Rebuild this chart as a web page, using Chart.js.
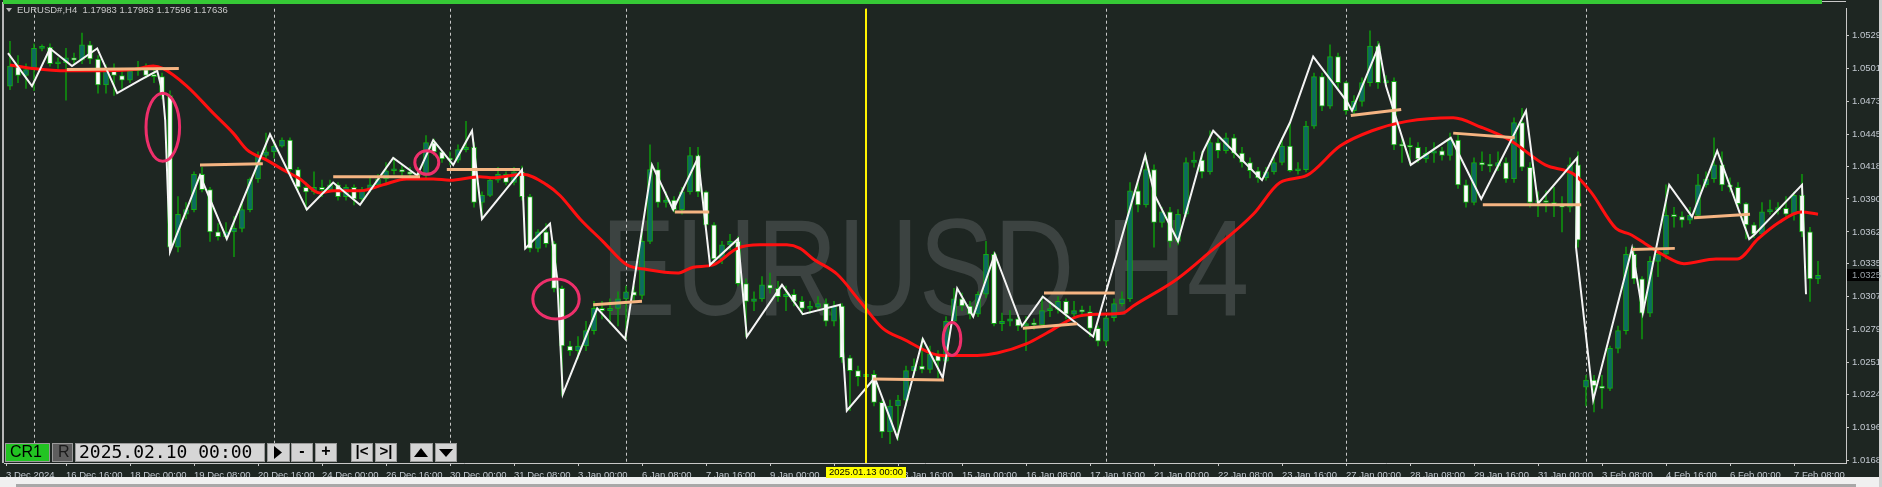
<!DOCTYPE html>
<html>
<head>
<meta charset="utf-8">
<title>EURUSD#,H4</title>
<script src="https://cdn.jsdelivr.net/npm/chart.js@4.4.1/dist/chart.umd.min.js"></script>
<style>
  html, body { margin: 0; padding: 0; background: #1e2622; overflow: hidden; }
  canvas { display: block; }
</style>
</head>
<body>
<canvas id="grafico" width="1882" height="487"></canvas>
<script>
// velas H4, uma entrada por barra: 13 Dec 2024 12:00 ate 7 Feb 2025 20:00
const abertura = [
  1.0486, 1.0503, 1.0495, 1.0500, 1.0518, 1.0519, 1.0505, 1.0506, 1.0510, 1.0508,
  1.0521, 1.0509, 1.0487, 1.0499, 1.0495, 1.0491, 1.0499, 1.0500, 1.0495, 1.0494,
  1.0478, 1.0349, 1.0377, 1.0381, 1.0411, 1.0398, 1.0362, 1.0358, 1.0362, 1.0365,
  1.0381, 1.0407, 1.0427, 1.0430, 1.0435, 1.0440, 1.0415, 1.0400, 1.0396, 1.0400,
  1.0398, 1.0402, 1.0392, 1.0400, 1.0390, 1.0398, 1.0402, 1.0407, 1.0414, 1.0415,
  1.0413, 1.0411, 1.0410, 1.0438, 1.0430, 1.0424, 1.0423, 1.0432, 1.0434, 1.0387,
  1.0393, 1.0406, 1.0411, 1.0404, 1.0413, 1.0392, 1.0348, 1.0362, 1.0352, 1.0314,
  1.0265, 1.0261, 1.0265, 1.0278, 1.0297, 1.0295, 1.0297, 1.0305, 1.0311, 1.0308,
  1.0354, 1.0415, 1.0387, 1.0389, 1.0381, 1.0396, 1.0427, 1.0396, 1.0368, 1.0339,
  1.0351, 1.0354, 1.0318, 1.0303, 1.0305, 1.0317, 1.0314, 1.0307, 1.0309, 1.0303,
  1.0297, 1.0298, 1.0301, 1.0286, 1.0299, 1.0255, 1.0244, 1.0239, 1.0241, 1.0217,
  1.0192, 1.0214, 1.0219, 1.0244, 1.0248, 1.0245, 1.0258, 1.0252, 1.0286, 1.0305,
  1.0299, 1.0292, 1.0309, 1.0343, 1.0284, 1.0286, 1.0288, 1.0282, 1.0284, 1.0283,
  1.0295, 1.0296, 1.0303, 1.0292, 1.0295, 1.0294, 1.0280, 1.0269, 1.0289, 1.0301,
  1.0305, 1.0397, 1.0385, 1.0415, 1.0370, 1.0379, 1.0354, 1.0377, 1.0421, 1.0423,
  1.0413, 1.0438, 1.0431, 1.0442, 1.0429, 1.0421, 1.0414, 1.0408, 1.0413, 1.0421,
  1.0435, 1.0414, 1.0415, 1.0452, 1.0494, 1.0469, 1.0511, 1.0489, 1.0465, 1.0473,
  1.0489, 1.0520, 1.0489, 1.0490, 1.0436, 1.0435, 1.0434, 1.0424, 1.0429, 1.0431,
  1.0427, 1.0440, 1.0402, 1.0387, 1.0421, 1.0419, 1.0418, 1.0421, 1.0407, 1.0455,
  1.0417, 1.0387, 1.0388, 1.0387, 1.0385, 1.0383, 1.0419, 1.0230, 1.0236, 1.0231,
  1.0229, 1.0263, 1.0278, 1.0343, 1.0322, 1.0293, 1.0337, 1.0343, 1.0376, 1.0375,
  1.0372, 1.0376, 1.0402, 1.0407, 1.0419, 1.0402, 1.0400, 1.0386, 1.0368, 1.0360,
  1.0379, 1.0381, 1.0382, 1.0377, 1.0393, 1.0362, 1.0322
]
const maxima = [
  1.0524, 1.0512, 1.0505, 1.0522, 1.0521, 1.0522, 1.0510, 1.0518, 1.0514, 1.0531,
  1.0524, 1.0512, 1.0504, 1.0505, 1.0499, 1.0501, 1.0507, 1.0505, 1.0500, 1.0497,
  1.0482, 1.0392, 1.0387, 1.0413, 1.0417, 1.0400, 1.0369, 1.0370, 1.0375, 1.0387,
  1.0408, 1.0430, 1.0446, 1.0440, 1.0442, 1.0442, 1.0417, 1.0404, 1.0413, 1.0406,
  1.0406, 1.0404, 1.0402, 1.0402, 1.0400, 1.0408, 1.0411, 1.0421, 1.0425, 1.0419,
  1.0417, 1.0414, 1.0444, 1.0441, 1.0431, 1.0430, 1.0436, 1.0456, 1.0438, 1.0396,
  1.0408, 1.0417, 1.0413, 1.0417, 1.0418, 1.0394, 1.0364, 1.0369, 1.0354, 1.0316,
  1.0269, 1.0273, 1.0286, 1.0303, 1.0303, 1.0305, 1.0311, 1.0316, 1.0316, 1.0366,
  1.0436, 1.0421, 1.0396, 1.0392, 1.0400, 1.0434, 1.0434, 1.0397, 1.0370, 1.0354,
  1.0360, 1.0358, 1.0322, 1.0311, 1.0324, 1.0327, 1.0320, 1.0316, 1.0313, 1.0307,
  1.0303, 1.0307, 1.0305, 1.0303, 1.0301, 1.0257, 1.0248, 1.0246, 1.0244, 1.0219,
  1.0219, 1.0223, 1.0248, 1.0254, 1.0271, 1.0265, 1.0261, 1.0290, 1.0314, 1.0310,
  1.0303, 1.0311, 1.0354, 1.0345, 1.0293, 1.0295, 1.0290, 1.0290, 1.0288, 1.0307,
  1.0303, 1.0307, 1.0305, 1.0303, 1.0299, 1.0299, 1.0282, 1.0290, 1.0305, 1.0311,
  1.0404, 1.0404, 1.0427, 1.0419, 1.0383, 1.0383, 1.0381, 1.0425, 1.0430, 1.0430,
  1.0448, 1.0442, 1.0446, 1.0445, 1.0434, 1.0425, 1.0417, 1.0417, 1.0425, 1.0442,
  1.0455, 1.0421, 1.0456, 1.0497, 1.0497, 1.0521, 1.0514, 1.0490, 1.0478, 1.0493,
  1.0533, 1.0524, 1.0495, 1.0493, 1.0442, 1.0442, 1.0438, 1.0434, 1.0438, 1.0434,
  1.0446, 1.0445, 1.0406, 1.0425, 1.0430, 1.0428, 1.0430, 1.0425, 1.0459, 1.0467,
  1.0421, 1.0396, 1.0397, 1.0400, 1.0392, 1.0425, 1.0430, 1.0240, 1.0240, 1.0240,
  1.0265, 1.0282, 1.0349, 1.0349, 1.0324, 1.0341, 1.0347, 1.0402, 1.0383, 1.0379,
  1.0383, 1.0411, 1.0413, 1.0442, 1.0430, 1.0408, 1.0404, 1.0387, 1.0370, 1.0387,
  1.0389, 1.0387, 1.0392, 1.0396, 1.0411, 1.0366, 1.0337
]
const minima = [
  1.0483, 1.0489, 1.0484, 1.0482, 1.0516, 1.0503, 1.0501, 1.0474, 1.0504, 1.0505,
  1.0505, 1.0480, 1.0480, 1.0478, 1.0484, 1.0489, 1.0495, 1.0493, 1.0489, 1.0475,
  1.0345, 1.0345, 1.0373, 1.0379, 1.0396, 1.0354, 1.0355, 1.0356, 1.0341, 1.0362,
  1.0379, 1.0404, 1.0424, 1.0425, 1.0434, 1.0411, 1.0396, 1.0381, 1.0394, 1.0392,
  1.0396, 1.0389, 1.0389, 1.0385, 1.0387, 1.0396, 1.0400, 1.0404, 1.0411, 1.0409,
  1.0408, 1.0408, 1.0408, 1.0427, 1.0421, 1.0419, 1.0421, 1.0430, 1.0383, 1.0373,
  1.0392, 1.0404, 1.0402, 1.0402, 1.0389, 1.0345, 1.0345, 1.0349, 1.0311, 1.0223,
  1.0257, 1.0254, 1.0261, 1.0275, 1.0288, 1.0284, 1.0282, 1.0271, 1.0303, 1.0305,
  1.0352, 1.0383, 1.0383, 1.0379, 1.0377, 1.0394, 1.0392, 1.0364, 1.0334, 1.0335,
  1.0347, 1.0316, 1.0273, 1.0295, 1.0303, 1.0310, 1.0303, 1.0295, 1.0299, 1.0292,
  1.0293, 1.0295, 1.0282, 1.0282, 1.0251, 1.0210, 1.0231, 1.0236, 1.0214, 1.0187,
  1.0182, 1.0185, 1.0214, 1.0240, 1.0242, 1.0242, 1.0238, 1.0251, 1.0284, 1.0295,
  1.0288, 1.0290, 1.0306, 1.0282, 1.0278, 1.0282, 1.0278, 1.0261, 1.0279, 1.0282,
  1.0290, 1.0293, 1.0288, 1.0290, 1.0290, 1.0273, 1.0265, 1.0265, 1.0286, 1.0299,
  1.0303, 1.0379, 1.0383, 1.0349, 1.0366, 1.0349, 1.0351, 1.0375, 1.0417, 1.0408,
  1.0411, 1.0425, 1.0429, 1.0425, 1.0417, 1.0408, 1.0404, 1.0406, 1.0411, 1.0419,
  1.0413, 1.0411, 1.0413, 1.0450, 1.0465, 1.0467, 1.0484, 1.0462, 1.0462, 1.0469,
  1.0486, 1.0484, 1.0486, 1.0432, 1.0421, 1.0419, 1.0421, 1.0421, 1.0421, 1.0423,
  1.0423, 1.0399, 1.0383, 1.0385, 1.0414, 1.0413, 1.0414, 1.0404, 1.0404, 1.0414,
  1.0383, 1.0375, 1.0379, 1.0375, 1.0362, 1.0379, 1.0349, 1.0214, 1.0209, 1.0212,
  1.0227, 1.0259, 1.0275, 1.0318, 1.0271, 1.0290, 1.0324, 1.0339, 1.0366, 1.0366,
  1.0369, 1.0375, 1.0400, 1.0404, 1.0397, 1.0396, 1.0383, 1.0356, 1.0357, 1.0358,
  1.0377, 1.0377, 1.0375, 1.0372, 1.0358, 1.0303, 1.0318
]
const fechamento = [
  1.0503, 1.0495, 1.0500, 1.0518, 1.0519, 1.0505, 1.0506, 1.0510, 1.0508, 1.0521,
  1.0509, 1.0487, 1.0499, 1.0495, 1.0491, 1.0499, 1.0500, 1.0495, 1.0494, 1.0478,
  1.0349, 1.0377, 1.0381, 1.0411, 1.0398, 1.0362, 1.0358, 1.0362, 1.0365, 1.0381,
  1.0407, 1.0427, 1.0430, 1.0435, 1.0440, 1.0415, 1.0400, 1.0396, 1.0400, 1.0398,
  1.0402, 1.0392, 1.0400, 1.0390, 1.0398, 1.0402, 1.0407, 1.0414, 1.0415, 1.0413,
  1.0411, 1.0410, 1.0438, 1.0430, 1.0424, 1.0423, 1.0432, 1.0434, 1.0387, 1.0393,
  1.0406, 1.0411, 1.0404, 1.0413, 1.0392, 1.0348, 1.0362, 1.0352, 1.0314, 1.0265,
  1.0261, 1.0265, 1.0278, 1.0297, 1.0295, 1.0297, 1.0305, 1.0311, 1.0308, 1.0354,
  1.0415, 1.0387, 1.0389, 1.0381, 1.0396, 1.0427, 1.0396, 1.0368, 1.0339, 1.0351,
  1.0354, 1.0318, 1.0303, 1.0305, 1.0317, 1.0314, 1.0307, 1.0309, 1.0303, 1.0297,
  1.0298, 1.0301, 1.0286, 1.0299, 1.0255, 1.0244, 1.0239, 1.0241, 1.0217, 1.0192,
  1.0214, 1.0219, 1.0244, 1.0248, 1.0245, 1.0258, 1.0252, 1.0286, 1.0305, 1.0299,
  1.0292, 1.0309, 1.0343, 1.0284, 1.0286, 1.0288, 1.0282, 1.0284, 1.0283, 1.0295,
  1.0296, 1.0303, 1.0292, 1.0295, 1.0294, 1.0280, 1.0269, 1.0289, 1.0301, 1.0305,
  1.0397, 1.0385, 1.0415, 1.0370, 1.0379, 1.0354, 1.0377, 1.0421, 1.0423, 1.0413,
  1.0438, 1.0431, 1.0442, 1.0429, 1.0421, 1.0414, 1.0408, 1.0413, 1.0421, 1.0435,
  1.0414, 1.0415, 1.0452, 1.0494, 1.0469, 1.0511, 1.0489, 1.0465, 1.0473, 1.0489,
  1.0520, 1.0489, 1.0490, 1.0436, 1.0435, 1.0434, 1.0424, 1.0429, 1.0431, 1.0427,
  1.0440, 1.0402, 1.0387, 1.0421, 1.0419, 1.0418, 1.0421, 1.0407, 1.0455, 1.0417,
  1.0387, 1.0388, 1.0387, 1.0385, 1.0383, 1.0419, 1.0355, 1.0236, 1.0231, 1.0229,
  1.0263, 1.0278, 1.0343, 1.0322, 1.0293, 1.0337, 1.0343, 1.0376, 1.0375, 1.0372,
  1.0376, 1.0402, 1.0407, 1.0419, 1.0402, 1.0400, 1.0386, 1.0368, 1.0360, 1.0379,
  1.0381, 1.0382, 1.0377, 1.0393, 1.0362, 1.0322, 1.0325
]

// media movel (linha vermelha), lida em alguns pontos
const mediaBarras = [0, 2.9, 7.1, 11.25, 15.4, 17.9, 19.1, 22.1, 25.4, 27.9, 29.6, 32.1, 34.1, 36.25, 38.75,
  40.4, 43.75, 46.6, 49.6, 52.9, 55, 58.75, 60.4, 64.1, 67.1, 68.75, 71.25, 74.1, 77.1, 79.6,
  83.4, 85.4, 87.9, 90.9, 93.75, 97.1, 98.75, 100.4, 103.4, 106.25, 109.1, 111.6, 116.6, 120.9, 123.4,
  127.1, 129.6, 133.4, 136.25, 139.1, 140.4, 145.9, 150, 155.4, 158.75, 162.1, 166.25, 170.25, 174.6, 180.4,
  183.9, 187.5, 191.9, 195.5, 197.6, 200.75, 202.5, 204.4, 206.5, 209.25, 213.25, 215.9, 218.5, 221.1, 223.9, 226]
const mediaPrecos = [1.0504, 1.0501, 1.0499, 1.0499, 1.0500, 1.0503, 1.0501, 1.0486, 1.0463, 1.0446, 1.0432, 1.0423, 1.0415, 1.0407, 1.0395,
  1.0397, 1.0397, 1.0402, 1.0407, 1.0407, 1.0406, 1.0409, 1.0408, 1.0411, 1.0402, 1.0393, 1.0373, 1.0354, 1.0334, 1.0330,
  1.0327, 1.0332, 1.0334, 1.0348, 1.0351, 1.0351, 1.0348, 1.0339, 1.0326, 1.0303, 1.0280, 1.0271, 1.0257, 1.0257, 1.0259,
  1.0267, 1.0276, 1.0290, 1.0292, 1.0293, 1.0299, 1.0322, 1.0345, 1.0377, 1.0404, 1.0410, 1.0435, 1.0448, 1.0456, 1.0459,
  1.0451, 1.0440, 1.0419, 1.0411, 1.0396, 1.0365, 1.0360, 1.0352, 1.0343, 1.0335, 1.0339, 1.0339, 1.0356, 1.0370, 1.0379, 1.0377]

// zigzag (linha branca)
const zigzagBarras = [-0.25, 2.75, 5, 7.75, 10.9, 13.4, 16.25, 18.4, 19.1, 19.4, 20, 23.75, 27.1, 32.5, 37.1, 40.4,
  43.75, 47.9, 50.9, 52.9, 55.4, 57.75, 59, 64, 64.4, 67.5, 68.4, 69.1, 73.4, 76.9, 80.25, 82.9, 86, 87.5,
  91, 92.1, 96.5, 99.1, 103.75, 104.6, 108.1, 110.9, 114.1, 116.6, 118.4, 120.4, 123.1, 126.5, 129.1, 135.4,
  141.9, 143.1, 146, 149.1, 150.4, 156.5, 160, 162.9, 167.1, 167.75, 171.1, 172, 175.1, 180.1, 183.9, 189.5,
  191, 195.9, 195.75, 197.9, 202.75, 204.1, 207.4, 210.25, 213.4, 217.4, 218.1, 224, 224.5]
const zigzagPrecos = [1.0514, 1.0486, 1.0518, 1.0503, 1.0518, 1.0480, 1.0491, 1.0499, 1.0480, 1.0457, 1.0345, 1.0410, 1.0356, 1.0445, 1.0381, 1.0404,
  1.0385, 1.0425, 1.0410, 1.0440, 1.0419, 1.0448, 1.0373, 1.0415, 1.0348, 1.0369, 1.0322, 1.0224, 1.0297, 1.0271, 1.0419, 1.0381, 1.0425, 1.0334,
  1.0356, 1.0273, 1.0317, 1.0292, 1.0300, 1.0210, 1.0238, 1.0187, 1.0271, 1.0238, 1.0314, 1.0290, 1.0343, 1.0282, 1.0307, 1.0273,
  1.0427, 1.0393, 1.0354, 1.0430, 1.0448, 1.0406, 1.0455, 1.0511, 1.0473, 1.0465, 1.0520, 1.0486, 1.0419, 1.0442, 1.0390, 1.0465,
  1.0386, 1.0425, 1.0349, 1.0219, 1.0348, 1.0293, 1.0402, 1.0375, 1.0431, 1.0356, 1.0360, 1.0402, 1.0309]

// niveis (segmentos laranja)
const nivelBarraIni = [7.1, 23.75, 40.4, 54.6, 72.9, 83.1, 107.9, 129.25, 126.6, 167.6, 180.4, 184.1, 202.75, 210.5]
const nivelBarraFim = [21.1, 31.6, 51.25, 63.75, 79, 87.4, 116.75, 138.1, 133.4, 173.9, 188.1, 196.4, 208.1, 217.5]
const nivelPrecoIni = [1.0500, 1.0419, 1.0409, 1.0415, 1.0300, 1.0379, 1.0237, 1.0310, 1.0280, 1.0461, 1.0446, 1.0385, 1.0347, 1.0374]
const nivelPrecoFim = [1.0501, 1.0420, 1.0409, 1.0415, 1.0303, 1.0379, 1.0236, 1.0310, 1.0284, 1.0466, 1.0442, 1.0385, 1.0348, 1.0377]

// marcacoes (elipses rosa)
const elipseBarra = [19.1, 52.1, 68.25, 117.75]
const elipsePreco = [1.0451, 1.0421, 1.0305, 1.0271]
const elipseRaioBarras = [2.1, 1.5, 2.9, 1.1]
const elipseRaioPreco = [0.0029, 0.0010, 0.0017, 0.0014]

// eixos
const precosEixo = [1.0168, 1.0196, 1.0224, 1.0251, 1.0279, 1.0307, 1.0335, 1.0362, 1.0390, 1.0418, 1.0445, 1.0473, 1.0501, 1.0529]
const barrasTempo = [-0.5, 7, 15, 23, 31, 39, 47, 55, 63, 71, 79, 87, 95, 103, 111, 119, 127, 135, 143, 151, 159, 167, 175, 183, 191, 199, 207, 215, 223]
const rotulosTempo = ['3 Dec 2024', '16 Dec 16:00', '18 Dec 00:00', '19 Dec 08:00', '20 Dec 16:00', '24 Dec 00:00', '26 Dec 16:00',
  '30 Dec 00:00', '31 Dec 08:00', '3 Jan 00:00', '6 Jan 08:00', '7 Jan 16:00', '9 Jan 00:00', '10 Jan 08:00', '13 Jan 16:00',
  '15 Jan 00:00', '16 Jan 08:00', '17 Jan 16:00', '21 Jan 00:00', '22 Jan 08:00', '23 Jan 16:00', '27 Jan 00:00', '28 Jan 08:00',
  '29 Jan 16:00', '31 Jan 00:00', '3 Feb 08:00', '4 Feb 16:00', '6 Feb 00:00', '7 Feb 08:00']
const inicioSemana = [3, 33, 55, 77, 107, 137, 167, 197]
const marcadorBarra = 107
const marcadorRotulo = '2025.01.13 00:00'

const titulo = 'EURUSD#,H4  1.17983 1.17983 1.17596 1.17636'
const marcaDagua = 'EURUSD H4'
const dataCampo = '2025.02.10 00:00'

const corFundo = '#1e2622'
const corTexto = '#c3c9d1'
const fonte = '"Liberation Sans", Arial, sans-serif'

const barras = fechamento.map((_, i) => i)

function desenharBotao(ctx, x, w, cor) {
    ctx.fillStyle = cor
    ctx.fillRect(x, 443, w, 19)
    ctx.strokeStyle = '#9a9a9a'
    ctx.lineWidth = 1
    ctx.strokeRect(x + 0.5, 443.5, w - 1, 18)
}

function triangulo(ctx, pts) {
    ctx.beginPath()
    ctx.moveTo(pts[0], pts[1])
    ctx.lineTo(pts[2], pts[3])
    ctx.lineTo(pts[4], pts[5])
    ctx.closePath()
    ctx.fill()
}

function desenharControles(ctx) {
    desenharBotao(ctx, 5, 45, '#22c422')
    desenharBotao(ctx, 52, 21, '#5e5e5e')
    desenharBotao(ctx, 75, 190, '#d6d6d6')
    const botoes = [[267, 23], [291, 22], [315, 22], [351, 22], [375, 22], [410, 23], [435, 22]]
    botoes.forEach(([x, w]) => desenharBotao(ctx, x, w, '#d4d4d4'))

    ctx.fillStyle = '#000'
    ctx.textBaseline = 'middle'
    ctx.textAlign = 'left'
    ctx.font = '16px ' + fonte
    ctx.fillText('CR1', 10, 453)
    ctx.fillStyle = '#1a1a1a'
    ctx.fillText('R', 58, 453)
    ctx.fillStyle = '#000'
    ctx.font = '18px "DejaVu Sans Mono", monospace'
    ctx.fillText(dataCampo, 79, 453)

    triangulo(ctx, [274, 446, 274, 459, 282, 452.5])
    ctx.font = 'bold 16px ' + fonte
    ctx.textAlign = 'center'
    ctx.fillText('-', 302, 452)
    ctx.fillText('+', 326, 452)
    ctx.font = 'bold 15px ' + fonte
    ctx.fillText('|<', 362, 452)
    ctx.fillText('>|', 386, 452)
    triangulo(ctx, [414, 457, 428, 457, 421, 448])
    triangulo(ctx, [439, 449, 453, 449, 446, 457])
}

const moldura = {
    id: 'moldura',
    beforeDraw(chart) {
        const { ctx, width, height } = chart
        ctx.save()
        ctx.fillStyle = corFundo
        ctx.fillRect(0, 0, width, height)
        ctx.restore()
    },
    beforeDatasetsDraw(chart) {
        const { ctx, chartArea: area, scales: { x } } = chart
        ctx.save()
        // marca d'agua
        ctx.font = '137px ' + fonte
        ctx.fillStyle = '#3c4341'
        ctx.textAlign = 'center'
        ctx.textBaseline = 'alphabetic'
        const largura = ctx.measureText(marcaDagua).width
        const escala = (area.right - area.left) * 0.352 / largura
        ctx.translate((area.left + area.right) / 2, area.top + (area.bottom - area.top) * 0.675)
        ctx.scale(escala, 1)
        ctx.fillText(marcaDagua, 0, 0)
        ctx.restore()

        // grade semanal tracejada
        ctx.save()
        ctx.strokeStyle = '#c8c8c8'
        ctx.lineWidth = 1
        ctx.setLineDash([3, 3])
        inicioSemana.forEach(b => {
            const px = Math.round(x.getPixelForValue(b)) + 0.5
            ctx.beginPath()
            ctx.moveTo(px, area.top)
            ctx.lineTo(px, area.bottom)
            ctx.stroke()
        })
        ctx.restore()
    },
    afterDatasetsDraw(chart) {
        const { ctx, chartArea: area, scales: { x, y } } = chart
        ctx.save()
        ctx.strokeStyle = '#ee2f6b'
        ctx.lineWidth = 3
        elipseBarra.forEach((b, i) => {
            const cx = x.getPixelForValue(b)
            const cy = y.getPixelForValue(elipsePreco[i])
            const rx = Math.abs(x.getPixelForValue(b + elipseRaioBarras[i]) - cx)
            const ry = Math.abs(y.getPixelForValue(elipsePreco[i] + elipseRaioPreco[i]) - cy)
            ctx.beginPath()
            ctx.ellipse(cx, cy, rx, ry, 0, 0, Math.PI * 2)
            ctx.stroke()
        })
        // linha vertical amarela
        const mx = Math.round(x.getPixelForValue(marcadorBarra))
        ctx.fillStyle = '#fff200'
        ctx.fillRect(mx - 1, area.top, 2, area.bottom - area.top)
        ctx.restore()
    },
    afterDraw(chart) {
        const { ctx, width, height, chartArea: area, scales: { x, y } } = chart
        ctx.save()
        // bordas da janela
        ctx.fillStyle = '#c8c8c8'
        ctx.fillRect(3, 1, area.right - 3, 1)
        ctx.fillStyle = '#b8b8b8'
        ctx.fillRect(2, 2, 2, area.bottom - 2)
        ctx.fillStyle = '#36c936'
        ctx.fillRect(3, 0, 1819, 4)
        ctx.fillStyle = '#f0f0f0'
        ctx.fillRect(0, 477, width, height - 477)
        ctx.fillStyle = '#a8a8a8'
        ctx.fillRect(16, 484, 1840, 3)
        ctx.fillStyle = '#cfcfcf'
        ctx.fillRect(1879, 0, 3, height)

        // titulo
        ctx.fillStyle = '#b8b8b8'
        triangulo(ctx, [6, 8, 12, 8, 9, 12])
        ctx.fillStyle = '#c8c8c8'
        ctx.font = '9.5px ' + fonte
        ctx.textAlign = 'left'
        ctx.textBaseline = 'middle'
        ctx.fillText(titulo, 17, 10)

        // rotulo da data marcada
        const mx = Math.round(x.getPixelForValue(marcadorBarra))
        ctx.fillStyle = '#ffff00'
        ctx.fillRect(mx - 40, 467, 80, 11)
        ctx.fillStyle = '#000'
        ctx.textAlign = 'center'
        ctx.fillText(marcadorRotulo, mx, 472.5)

        // preco atual
        const ultimo = fechamento[fechamento.length - 1]
        const py = Math.round(y.getPixelForValue(ultimo))
        ctx.fillStyle = '#000'
        ctx.fillRect(area.right + 1, py - 6, width - area.right - 4, 12)
        ctx.fillStyle = '#9aa1a8'
        ctx.textAlign = 'left'
        ctx.fillText(ultimo.toFixed(4), area.right + 6, py)

        desenharControles(ctx)
        ctx.restore()
    }
}

const conjuntosNivel = nivelBarraIni.map((b, i) => ({
    type: 'line',
    data: [{ x: b, y: nivelPrecoIni[i] }, { x: nivelBarraFim[i], y: nivelPrecoFim[i] }],
    borderColor: '#f5b482',
    borderWidth: 3,
    pointRadius: 0,
    order: 1
}))

const grafico = new Chart(document.getElementById('grafico'), {
    type: 'bar',
    data: {
        datasets: [
            ...conjuntosNivel,
            {
                type: 'line',
                label: 'ZigZag',
                data: zigzagBarras.map((b, i) => ({ x: b, y: zigzagPrecos[i] })),
                borderColor: '#f4f4f4',
                borderWidth: 2,
                pointRadius: 0,
                tension: 0,
                order: 2
            },
            {
                type: 'line',
                label: 'MA',
                data: mediaBarras.map((b, i) => ({ x: b, y: mediaPrecos[i] })),
                borderColor: '#ff1010',
                borderWidth: 3,
                pointRadius: 0,
                cubicInterpolationMode: 'monotone',
                order: 3
            },
            {
                label: 'Corpo',
                data: barras.map(i => ({ x: i, y: [abertura[i], fechamento[i]] })),
                backgroundColor: barras.map(i => fechamento[i] > abertura[i] ? '#0d6a62' : '#ffffff'),
                borderColor: '#13ad13',
                borderWidth: 1,
                borderSkipped: false,
                barThickness: 5,
                minBarLength: 2,
                grouped: false,
                order: 4
            },
            {
                label: 'Pavio',
                data: barras.map(i => ({ x: i, y: [minima[i], maxima[i]] })),
                backgroundColor: '#0f8f0f',
                barThickness: 1,
                grouped: false,
                order: 5
            }
        ]
    },
    options: {
        responsive: false,
        animation: false,
        devicePixelRatio: 1,
        layout: { padding: { left: 4, top: 5, right: 0, bottom: 0 } },
        plugins: {
            legend: { display: false },
            tooltip: { enabled: false },
            title: { display: false }
        },
        scales: {
            x: {
                type: 'linear',
                offset: false,
                min: -0.75,
                max: 229.5,
                afterBuildTicks: eixo => { eixo.ticks = barrasTempo.map(v => ({ value: v })) },
                afterFit: eixo => { eixo.height = 24 },
                grid: { offset: false, drawOnChartArea: false, tickLength: 3, tickColor: '#c8c8c8' },
                border: { color: '#c8c8c8' },
                ticks: {
                    align: 'start',
                    autoSkip: false,
                    maxRotation: 0,
                    padding: 4,
                    color: corTexto,
                    font: { family: fonte, size: 9.5 },
                    callback: (v, i) => rotulosTempo[i]
                }
            },
            y: {
                type: 'linear',
                position: 'right',
                min: 1.01655,
                max: 1.05518,
                afterBuildTicks: eixo => { eixo.ticks = precosEixo.map(v => ({ value: v })) },
                afterFit: eixo => { eixo.width = 36 },
                grid: { drawOnChartArea: false, tickLength: 3, tickColor: '#c8c8c8' },
                border: { color: '#c8c8c8' },
                ticks: {
                    padding: 3,
                    color: corTexto,
                    font: { family: fonte, size: 9.5 },
                    callback: v => v.toFixed(4)
                }
            }
        }
    },
    plugins: [moldura]
})
</script>
</body>
</html>
